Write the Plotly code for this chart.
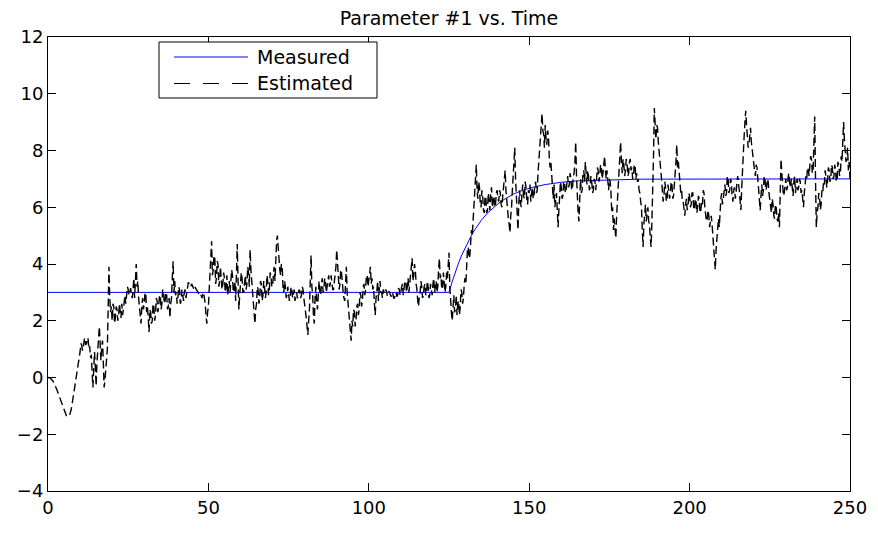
import plotly.graph_objects as go

# ---- data ----
title_text = "Parameter #1 vs. Time"
series_names = ["Measured", "Estimated"]

x_ticks = [0, 50, 100, 150, 200, 250]
y_ticks = [-4, -2, 0, 2, 4, 6, 8, 10, 12]

measured_t = [0, 125, 126, 127, 128, 129, 130, 131, 132, 133, 134, 135, 137, 139,
              141, 143, 145, 148, 151, 155, 160, 165, 175, 185, 250]
measured_v = [3.0, 3.0, 3.38, 3.73, 4.04, 4.32, 4.57, 4.80, 5.01, 5.20, 5.37, 5.53,
              5.80, 6.01, 6.19, 6.33, 6.46, 6.60, 6.70, 6.80, 6.88, 6.93, 6.97, 6.99, 7.0]

estimated_step = 0.25
estimated_v = [
    # t 0-10
    0.0, 0.0, -0.01, -0.03, -0.05, -0.08, -0.12, -0.17, -0.22, -0.28,
    -0.35, -0.42, -0.5, -0.58, -0.66, -0.74, -0.82, -0.9, -0.98, -1.06,
    -1.15, -1.23, -1.3, -1.35, -1.38, -1.38, -1.36, -1.32, -1.25, -1.12,
    -0.95, -0.78, -0.6, -0.4, -0.2, 0.0, 0.2, 0.38, 0.55, 0.72,
    # t 10-20
    0.9, 1.2, 1.15, 0.95, 1.05, 1.3, 1.4, 1.15, 1.2, 1.4,
    1.35, 1.0, 1.1, 0.7, 0.8, 0.2, -0.35, 0.3, 0.9, 0.4,
    -0.3, 0.5, 1.0, 1.5, 1.8, 1.2, 0.6, 1.1, 1.3, 0.5,
    -0.35, -0.1, 0.4, 0.9, 1.0, 2.4, 3.9, 2.8, 2.3, 2.5,
    # t 20-30
    2.0, 2.6, 2.5, 1.9, 2.1, 2.5, 2.4, 2.0, 2.15, 2.6,
    2.35, 2.1, 2.6, 2.2, 2.4, 2.8, 2.9, 2.6, 3.05, 3.2,
    3.1, 2.9, 3.0, 3.15, 2.95, 2.8, 3.05, 3.5, 2.8, 3.3,
    4.0, 3.2, 3.4, 2.8, 2.5, 2.2, 1.9, 2.5, 2.8, 2.4,
    # t 30-40
    2.6, 3.0, 2.9, 2.3, 2.5, 2.1, 1.6, 2.4, 2.3, 1.9,
    2.0, 2.6, 2.5, 2.0, 2.2, 2.8, 2.7, 2.3, 2.5, 2.9,
    2.9, 2.4, 2.6, 3.1, 3.0, 2.6, 2.7, 3.0, 2.9, 2.4,
    2.5, 2.8, 2.1, 2.6, 2.8, 3.5, 4.1, 3.0, 3.4, 2.9,
    # t 40-50
    3.0, 2.6, 2.8, 3.2, 3.1, 2.6, 2.7, 3.1, 2.9, 2.7,
    3.0, 3.1, 2.8, 3.0, 3.2, 3.35, 3.3, 3.2, 3.2, 3.3,
    3.25, 3.15, 3.1, 3.2, 3.15, 3.05, 3.0, 3.0, 2.95, 2.9,
    2.85, 2.9, 2.8, 2.95, 3.0, 2.8, 2.6, 2.2, 1.9, 2.3,
    # t 50-60
    2.5, 3.1, 3.6, 4.2, 4.8, 3.6, 3.8, 4.3, 4.2, 3.3,
    3.5, 4.1, 4.0, 3.2, 3.4, 3.9, 3.6, 3.1, 3.3, 3.7,
    3.5, 3.0, 3.2, 3.6, 2.9, 3.2, 3.4, 3.0, 3.3, 3.8,
    3.6, 3.0, 3.1, 3.4, 2.7, 3.6, 4.7, 3.4, 2.4, 2.9,
    # t 60-70
    3.2, 3.7, 3.5, 3.0, 3.0, 3.5, 3.6, 3.1, 3.3, 3.9,
    3.7, 3.2, 4.5, 3.8, 3.4, 2.9, 2.6, 2.3, 1.9, 2.4,
    2.6, 3.2, 3.1, 2.6, 2.8, 3.4, 3.3, 2.7, 2.9, 3.4,
    3.2, 2.8, 3.0, 3.6, 3.4, 2.9, 3.1, 3.7, 3.6, 3.2,
    # t 70-80
    3.2, 3.6, 3.9, 3.4, 4.5, 4.8, 5.0, 4.4, 4.2, 3.8,
    3.6, 4.0, 3.9, 3.2, 3.0, 3.4, 3.2, 2.8, 2.9, 3.2,
    3.0, 2.7, 2.8, 3.2, 3.1, 2.8, 2.9, 3.1, 2.7, 2.9,
    3.0, 2.8, 2.85, 3.1, 3.05, 2.8, 2.9, 3.2, 3.1, 2.8,
    # t 80-90
    2.6, 2.3, 2.1, 1.8, 1.5, 2.0, 2.4, 3.4, 4.3, 3.2,
    2.9, 2.2, 1.9, 2.8, 3.2, 2.7, 2.4, 2.9, 3.4, 3.0,
    2.9, 3.3, 3.5, 3.0, 3.1, 3.5, 3.4, 3.0, 3.2, 3.5,
    3.6, 3.2, 3.3, 3.6, 3.4, 3.1, 3.1, 3.4, 3.5, 3.9,
    # t 90-100
    4.5, 3.9, 3.6, 3.1, 3.3, 3.8, 3.7, 3.2, 3.0, 2.8,
    2.7, 3.3, 3.9, 3.0, 2.6, 2.3, 2.0, 1.6, 1.3, 2.0,
    1.8, 2.4, 2.3, 1.8, 2.0, 2.5, 2.6, 2.2, 2.4, 3.0,
    2.9, 2.5, 2.7, 3.2, 3.3, 2.9, 3.1, 3.6, 3.6, 3.2,
    # t 100-110
    3.4, 3.7, 3.9, 3.3, 3.5, 3.1, 3.2, 2.6, 2.2, 2.8,
    3.0, 3.4, 2.7, 3.1, 3.4, 3.0, 3.0, 2.8, 3.1, 3.0,
    2.95, 3.1, 3.05, 2.9, 2.9, 3.05, 3.0, 2.9, 2.85, 3.0,
    2.95, 2.8, 2.8, 2.95, 3.0, 2.85, 2.9, 3.15, 3.1, 2.9,
    # t 110-120
    3.0, 3.2, 3.3, 2.9, 3.1, 3.4, 3.4, 3.0, 3.2, 3.5,
    3.0, 3.3, 3.5, 3.9, 4.2, 3.4, 3.6, 4.0, 3.8, 3.3,
    3.1, 2.7, 2.5, 2.9, 3.0, 3.4, 3.2, 2.8, 2.9, 3.2,
    3.3, 2.9, 3.0, 3.4, 3.2, 2.8, 2.9, 3.3, 3.1, 2.9,
    # t 120-130
    3.3, 3.5, 3.0, 3.2, 3.4, 3.0, 3.2, 3.8, 4.2, 3.5,
    3.6, 3.1, 3.2, 3.7, 3.4, 3.0, 3.2, 3.7, 3.5, 3.9,
    4.4, 3.2, 2.6, 2.3, 2.0, 2.6, 2.9, 2.3, 2.4, 2.9,
    2.2, 2.6, 2.7, 2.2, 2.5, 3.1, 3.0, 2.6, 2.8, 3.3,
    # t 130-140
    3.5, 3.3, 4.0, 4.5, 4.6, 4.2, 4.3, 5.0, 5.2, 5.0,
    5.5, 6.0, 6.2, 7.0, 7.5, 6.6, 6.3, 6.9, 6.7, 6.1,
    6.0, 6.6, 6.4, 5.9, 5.8, 6.4, 6.3, 5.8, 5.9, 6.5,
    6.2, 5.9, 6.5, 6.7, 6.0, 6.3, 6.4, 6.0, 6.1, 6.5,
    # t 140-150
    6.6, 6.3, 6.2, 6.6, 6.5, 6.1, 6.0, 6.4, 6.7, 7.0,
    7.3, 6.6, 6.2, 5.9, 5.6, 5.4, 5.1, 5.7, 6.0, 6.6,
    7.0, 7.6, 8.1, 7.0, 6.5, 5.8, 5.2, 6.1, 6.6, 6.2,
    6.0, 6.5, 6.8, 6.4, 6.3, 6.9, 6.7, 6.3, 6.1, 6.6,
    # t 150-160
    6.5, 6.8, 6.2, 6.5, 6.7, 6.3, 6.4, 6.8, 6.9, 6.5,
    6.6, 7.2, 7.7, 7.9, 8.3, 8.8, 9.3, 8.7, 8.6, 8.1,
    8.9, 8.4, 8.2, 8.7, 8.5, 7.8, 7.4, 7.6, 7.1, 6.6,
    6.3, 6.8, 6.0, 6.3, 6.5, 5.9, 5.3, 5.9, 6.4, 6.9,
    # t 160-170
    6.7, 6.3, 6.4, 6.9, 6.9, 6.5, 6.6, 7.0, 7.1, 6.7,
    6.8, 7.2, 7.0, 6.6, 6.7, 7.1, 7.2, 7.6, 8.3, 7.1,
    6.2, 5.8, 5.5, 6.4, 7.0, 6.5, 6.6, 7.2, 7.3, 6.9,
    7.6, 7.2, 6.8, 7.3, 7.1, 6.6, 6.7, 7.1, 6.9, 6.5,
    # t 170-180
    6.6, 7.0, 6.9, 6.6, 7.0, 7.4, 7.3, 6.9, 7.1, 7.5,
    7.4, 7.0, 7.2, 7.5, 7.8, 7.3, 7.0, 7.3, 6.8, 6.6,
    7.0, 6.9, 6.5, 5.8, 6.0, 5.2, 5.6, 5.3, 4.9, 5.7,
    6.2, 6.7, 7.0, 7.6, 8.3, 7.6, 7.2, 7.7, 7.5, 7.1,
    # t 180-190
    7.3, 7.7, 7.6, 7.1, 7.2, 7.6, 7.7, 7.3, 7.4, 7.0,
    7.1, 7.5, 7.5, 7.0, 7.2, 6.9, 7.0, 6.6, 6.5, 6.2,
    6.0, 5.2, 4.6, 5.4, 5.8, 6.1, 5.5, 5.9, 6.0, 5.5,
    5.4, 4.9, 4.6, 5.5, 6.3, 7.8, 9.5, 8.7, 8.4, 8.9,
    # t 190-200
    8.8, 8.3, 8.0, 7.7, 7.5, 7.0, 6.6, 6.2, 6.4, 6.9,
    6.7, 6.2, 6.3, 6.8, 6.6, 6.3, 6.5, 6.9, 6.8, 6.3,
    6.4, 6.8, 7.0, 7.6, 8.2, 7.4, 7.6, 7.1, 7.0, 6.5,
    6.6, 6.2, 6.2, 6.0, 5.7, 6.1, 6.3, 5.9, 6.0, 6.5,
    # t 200-210
    6.4, 6.0, 6.1, 6.5, 6.5, 6.0, 5.9, 6.3, 6.2, 5.8,
    6.0, 6.4, 6.3, 5.8, 5.9, 6.2, 6.1, 6.6, 6.5, 6.0,
    5.8, 5.5, 5.6, 5.9, 5.7, 5.3, 5.5, 5.7, 5.4, 5.0,
    4.7, 4.2, 3.8, 4.5, 5.0, 5.4, 5.6, 5.3, 6.0, 6.3,
    # t 210-220
    6.5, 6.1, 6.3, 6.7, 6.8, 6.4, 6.5, 7.1, 7.0, 6.5,
    6.6, 7.0, 6.9, 6.4, 6.2, 6.6, 6.7, 6.3, 6.5, 6.9,
    7.1, 6.8, 6.6, 6.2, 5.9, 6.7, 7.5, 8.0, 8.5, 9.0,
    9.4, 8.9, 8.6, 8.1, 8.2, 8.7, 8.8, 8.3, 8.0, 7.8,
    # t 220-230
    7.6, 7.3, 7.1, 7.5, 7.4, 7.0, 6.9, 6.3, 5.9, 6.4,
    6.8, 6.4, 6.6, 7.1, 7.0, 6.6, 6.7, 7.0, 6.9, 6.5,
    6.2, 6.0, 5.8, 6.3, 6.1, 5.7, 5.6, 6.1, 6.0, 5.6,
    5.5, 5.8, 5.3, 6.5, 7.7, 7.2, 6.8, 6.4, 6.5, 6.9,
    # t 230-240
    7.0, 6.6, 6.7, 7.1, 7.2, 6.7, 6.8, 7.0, 6.6, 6.4,
    6.9, 7.1, 6.5, 6.8, 7.0, 6.6, 6.7, 7.0, 6.9, 6.5,
    6.6, 6.3, 6.0, 6.5, 6.8, 7.1, 7.0, 7.4, 7.3, 7.1,
    7.5, 7.8, 7.7, 7.2, 7.3, 8.2, 9.2, 7.0, 5.3, 5.8,
    # t 240-250
    6.0, 6.5, 6.4, 5.9, 6.1, 6.6, 6.5, 6.9, 6.8, 7.3,
    7.1, 6.7, 6.9, 7.4, 7.3, 6.9, 7.0, 7.5, 7.4, 7.0,
    7.1, 7.5, 7.3, 6.9, 7.0, 7.6, 7.5, 7.1, 7.2, 7.8,
    7.6, 8.3, 9.0, 8.4, 8.0, 7.6, 7.7, 8.1, 7.3, 7.6,
    7.0,
]
estimated_t = [i * estimated_step for i in range(len(estimated_v))]

# ---- figure ----
FONT = "DejaVu Sans, Arial, sans-serif"
PAGE_OFFSET = 8  # default body margin of the html page

fig = go.Figure()
fig.add_trace(go.Scatter(x=measured_t, y=measured_v, mode="lines", name=series_names[0],
                         line=dict(color="#0000ff", width=1), showlegend=False))
fig.add_trace(go.Scatter(x=estimated_t, y=estimated_v, mode="lines", name=series_names[1],
                         line=dict(color="#000000", width=1.4, dash="8px,4px"), showlegend=False))

# plot area in window pixels
px0, px1, py0, py1 = 48, 850, 37, 491
def px(x):
    return (x - px0) / (px1 - px0)
def py(y):
    return (py1 - y) / (py1 - py0)

shapes = [
    dict(type="rect", xref="paper", yref="paper", x0=px(159), x1=px(377), y0=py(98), y1=py(42),
         line=dict(color="black", width=1), fillcolor="white", layer="above"),
    dict(type="line", xref="paper", yref="paper", x0=px(174), x1=px(248), y0=py(57), y1=py(57),
         line=dict(color="#0000ff", width=1), layer="above"),
    dict(type="line", xref="paper", yref="paper", x0=px(174), x1=px(248), y0=py(83.5), y1=py(83.5),
         line=dict(color="black", width=1, dash="16px,13px"), layer="above"),
]
annotations = [
    dict(xref="paper", yref="paper", x=px(255), y=py(57), text=series_names[0], showarrow=False,
         xanchor="left", yanchor="middle", font=dict(family=FONT, size=19, color="black")),
    dict(xref="paper", yref="paper", x=px(255), y=py(83.5), text=series_names[1], showarrow=False,
         xanchor="left", yanchor="middle", font=dict(family=FONT, size=19, color="black")),
]

axis_common = dict(showline=True, linecolor="black", linewidth=1, mirror="ticks",
                   ticks="inside", ticklen=8, tickcolor="black", tickwidth=1,
                   showgrid=False, zeroline=False,
                   tickfont=dict(family=FONT, size=18, color="black"))

W, H = 878 - PAGE_OFFSET, 533 - PAGE_OFFSET
fig.update_layout(
    width=W, height=H,
    margin=dict(l=px0 - PAGE_OFFSET, r=878 - px1, t=py0 - PAGE_OFFSET, b=533 - py1, autoexpand=False),
    paper_bgcolor="white", plot_bgcolor="white",
    title=dict(text=title_text, x=0.5, xref="paper", xanchor="center",
               y=1 - (18 - PAGE_OFFSET) / H, yref="container", yanchor="middle",
               font=dict(family=FONT, size=19, color="black")),
    xaxis=dict(range=[0, 250], tickvals=x_ticks, **axis_common),
    yaxis=dict(range=[-4, 12], tickvals=y_ticks, **axis_common),
    shapes=shapes, annotations=annotations, showlegend=False,
)

fig.write_html("out.html")
